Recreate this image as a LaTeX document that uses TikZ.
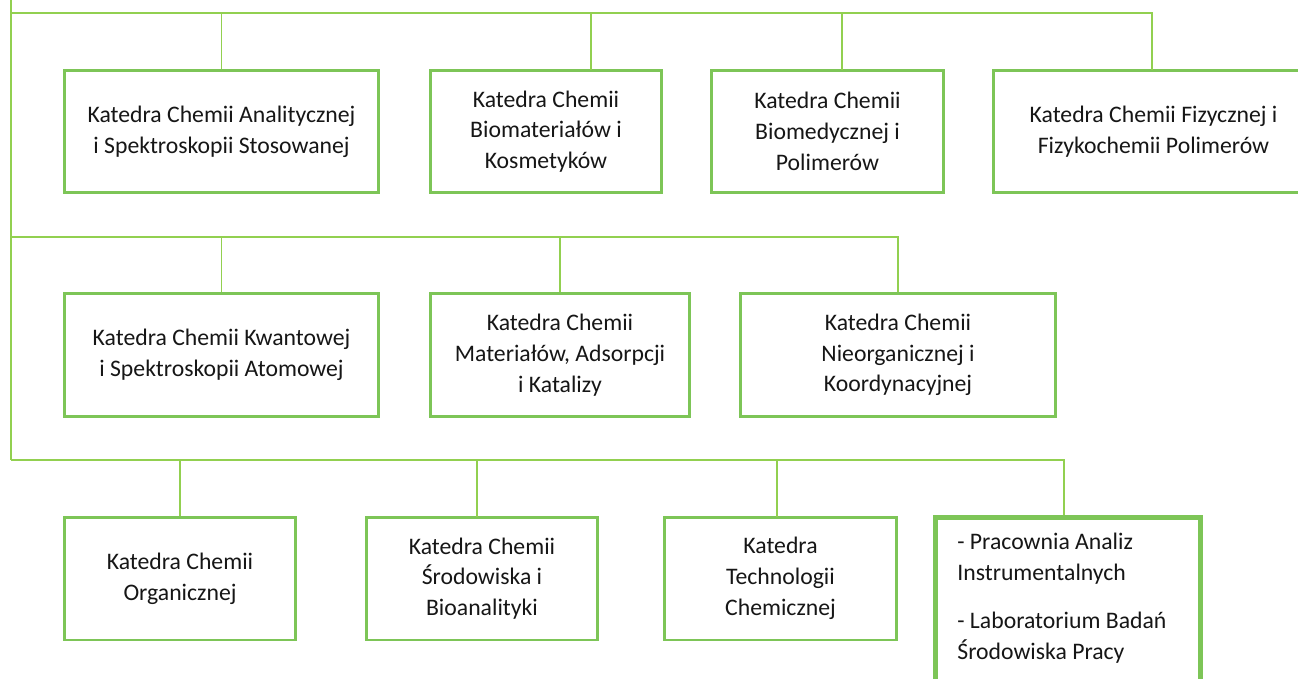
\documentclass[tikz,border=0pt]{standalone}
\usepackage{fontspec}
\setmainfont{Carlito}
\usepackage{tikz}
\usetikzlibrary{positioning,calc}
\definecolor{Ink}{HTML}{161616}
\definecolor{Wire}{HTML}{92D050}
\definecolor{Frame}{HTML}{7DC557}
\tikzset{
  unit/.style={draw=Frame,line width=1.7pt,fill=white,align=center,text=Ink,
    font=\fontsize{13.5}{17.5}\selectfont,inner sep=2pt},
  unitwide/.style={unit,minimum width=6.3cm,minimum height=2.46cm},
  unitnarrow/.style={unit,minimum width=4.64cm,minimum height=2.46cm},
  unitlab/.style={unit,draw=Frame,line width=2.6pt,minimum width=5.3cm,minimum height=4cm},
  listtext/.style={align=left,text=Ink,font=\fontsize{13.5}{17.5}\selectfont,inner sep=0pt},
  link/.style={draw=Wire,line width=1.1pt}
}
\begin{document}
\begin{tikzpicture}[x=0.02cm,y=-0.02cm]
  \useasboundingbox (0,0) rectangle (1298,679);
  % spine and three bus lines
  \coordinate (top) at (11,-5);
  \coordinate (busA) at (11,13);
  \coordinate (busB) at (11,237);
  \coordinate (busC) at (11,460);
  \draw[link] (top) -- (busC);
  % first row
  \node[unitwide] (k1) at (221.5,131.5) {Katedra Chemii Analitycznej\\i Spektroskopii Stosowanej};
  \node[unitnarrow] (k2) at (546,131.5) {Katedra Chemii\\Biomateriałów i\\Kosmetyków};
  \node[unitnarrow] (k3) at (827.5,131.5) {Katedra Chemii\\Biomedycznej i\\Polimerów};
  \node[unit,minimum width=6.42cm,minimum height=2.46cm] (k4) at (1153.5,131.5) {Katedra Chemii Fizycznej i\\Fizykochemii Polimerów};
  % second row
  \node[unitwide] (k5) at (221.5,355) {Katedra Chemii Kwantowej\\i Spektroskopii Atomowej};
  \node[unit,minimum width=5.2cm,minimum height=2.48cm] (k6) at (560,355) {Katedra Chemii\\Materiałów, Adsorpcji\\i Katalizy};
  \node[unitwide,minimum width=6.32cm,minimum height=2.48cm] (k7) at (898,355) {Katedra Chemii\\Nieorganicznej i\\Koordynacyjnej};
  % third row
  \node[unitnarrow] (k8) at (180,578.5) {Katedra Chemii\\Organicznej};
  \node[unitnarrow] (k9) at (482,578.5) {Katedra Chemii\\Środowiska i\\Bioanalityki};
  \node[unitnarrow,minimum width=4.66cm] (k10) at (780.5,578.5) {Katedra\\Technologii\\Chemicznej};
  \node[unitlab,anchor=north west] (k11) at (933,515) {};
  \node[listtext,anchor=north west] (k11t) at (957,533) {- Pracownia Analiz\\Instrumentalnych\\[10pt]- Laboratorium Badań\\Środowiska Pracy};
  % drops from the buses
  \coordinate (j2) at (591,70);
  \coordinate (j3) at (842,70);
  \coordinate (j4) at (1152,70);
  \coordinate (j9) at (477,517);
  \coordinate (j10) at (777,517);
  \coordinate (j11) at (1064,515);
  \draw[link] (busA) -| (j4);
  \draw[link] (k1.north) -- (k1.north |- busA);
  \draw[link] (j2) -- (j2 |- busA);
  \draw[link] (j3) -- (j3 |- busA);
  \draw[link] (busB) -| (k7.north);
  \draw[link] (k5.north) -- (k5.north |- busB);
  \draw[link] (k6.north) -- (k6.north |- busB);
  \draw[link] (busC) -| (j11);
  \draw[link] (k8.north) -- (k8.north |- busC);
  \draw[link] (j9) -- (j9 |- busC);
  \draw[link] (j10) -- (j10 |- busC);
\end{tikzpicture}
\end{document}
